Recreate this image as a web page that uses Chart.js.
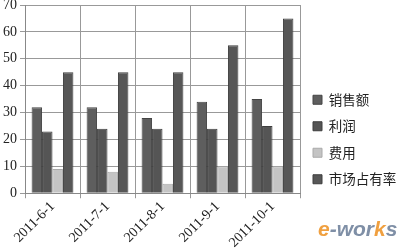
<!DOCTYPE html>
<html>
<head>
<meta charset="utf-8">
<script src="https://cdn.jsdelivr.net/npm/chart.js@4/dist/chart.umd.min.js"></script>
<style>
  html, body { margin: 0; padding: 0; background: #fff; }
  #wrap { width: 400px; height: 249px; }
</style>
</head>
<body>
<div id="wrap"><canvas id="c"></canvas></div>
<script>
// data
const dates = ['2011-6-1', '2011-7-1', '2011-8-1', '2011-9-1', '2011-10-1'];
const sales = [32, 32, 28, 34, 35];
const profit = [23, 24, 24, 24, 25];
const cost = [9, 8, 3.5, 10, 10];
const share = [45, 45, 45, 55, 65];
const yTicks = [0, 10, 20, 30, 40, 50, 60, 70];

const serif = "'Liberation Serif', 'DejaVu Serif', serif";
const cjk = "'Noto Sans CJK SC', sans-serif";

// small watermark in the lower right corner
const watermark = {
    id: 'watermark',
    afterDraw(chart) {
        const ctx = chart.ctx;
        ctx.save();
        ctx.font = "italic bold 21px 'Liberation Sans', sans-serif";
        ctx.textBaseline = 'alphabetic';
        let x = 318;
        const y = 236;
        const parts = [['e', '#f0a040'], ['-wor', '#7f8fa6'], ['k', '#f0a040'], ['s', '#7f8fa6']];
        parts.forEach(p => {
            ctx.fillStyle = p[1];
            ctx.fillText(p[0], x, y);
            x += ctx.measureText(p[0]).width;
        });
        ctx.restore();
    }
};

new Chart(document.getElementById('c'), {
    type: 'bar',
    data: {
        labels: dates,
        datasets: [
            { label: '销售额', data: sales, backgroundColor: '#5e5e5e', borderColor: '#444', borderWidth: 1 },
            { label: '利润', data: profit, backgroundColor: '#555555', borderColor: '#3e3e3e', borderWidth: 1 },
            { label: '费用', data: cost, backgroundColor: '#c4c4c4', borderColor: '#aaa', borderWidth: 1 },
            { label: '市场占有率', data: share, backgroundColor: '#575757', borderColor: '#3e3e3e', borderWidth: 1 }
        ]
    },
    options: {
        responsive: true,
        maintainAspectRatio: false,
        animation: false,
        layout: { padding: { top: 0, right: 0, left: 0, bottom: -2 } },
        datasets: { bar: { categoryPercentage: 0.76, barPercentage: 1.0 } },
        plugins: {
            tooltip: { enabled: false },
            legend: {
                position: 'right',
                align: 'center',
                title: { display: true, text: ' ', padding: 8, font: { size: 10 } },
                labels: {
                    boxWidth: 9,
                    boxHeight: 9,
                    padding: 13,
                    color: '#222',
                    font: { family: cjk, size: 13.5 }
                }
            }
        },
        scales: {
            x: {
                grid: { color: '#999', tickLength: 5, offset: true },
                border: { color: '#888' },
                ticks: {
                    minRotation: 45,
                    maxRotation: 45,
                    color: '#222',
                    padding: 0,
                    font: { family: serif, size: 14 }
                }
            },
            y: {
                min: 0,
                max: 70,
                afterBuildTicks: axis => { axis.ticks = yTicks.map(v => ({ value: v })); },
                // let the top label sit close to the edge as in the original
                afterFit: axis => { axis.paddingTop = 5; },
                grid: { color: '#999', tickLength: 5 },
                border: { color: '#888' },
                ticks: {
                    color: '#222',
                    padding: 3,
                    font: { family: serif, size: 14 }
                }
            }
        }
    },
    plugins: [watermark]
});
</script>
</body>
</html>
